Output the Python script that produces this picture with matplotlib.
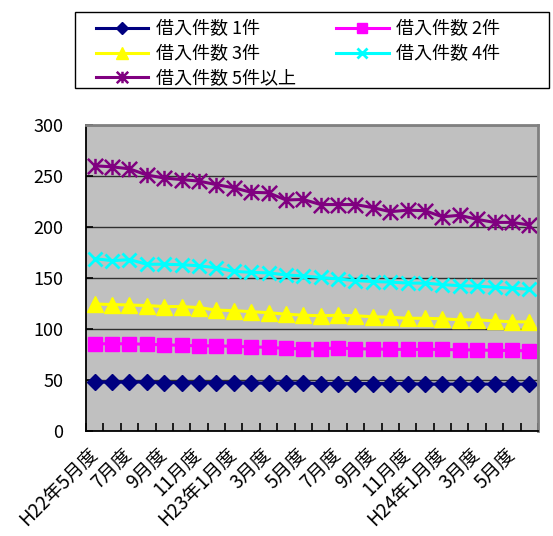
import matplotlib
matplotlib.use("Agg")
import matplotlib.pyplot as plt
from matplotlib.path import Path
from matplotlib.patches import Rectangle
from matplotlib.ticker import FixedLocator
import numpy as np

plt.rcParams['font.family'] = ['Noto Sans CJK JP', 'DejaVu Sans']

months = ["H22年5月度", "6月度", "7月度", "8月度", "9月度", "10月度", "11月度", "12月度",
          "H23年1月度", "2月度", "3月度", "4月度", "5月度", "6月度", "7月度", "8月度",
          "9月度", "10月度", "11月度", "12月度", "H24年1月度", "2月度", "3月度", "4月度",
          "5月度", "6月度"]

s1 = [48, 48, 48, 48, 47.5, 47.5, 47.5, 47.5, 47.5, 47, 47, 47, 47, 46.5, 46.5, 46.5,
      46.5, 46.5, 46.5, 46, 46, 46, 46, 46, 46, 46]
s2 = [85.5, 85.5, 85.5, 85, 84.5, 84, 83.5, 83.5, 83, 82.5, 82, 81, 80.5, 80.5, 81.5, 80.5,
      80.5, 80, 80, 80, 80, 79.5, 79.5, 79, 79, 78.5]
s3 = [124.5, 124, 123.5, 123, 122, 122, 121, 118.5, 118, 117, 116, 114.5, 113.5, 113, 113.5, 113,
      112, 111.5, 110.5, 110.5, 110, 109, 109, 108, 107, 107]
s4 = [169, 167, 168, 163.5, 163.5, 163, 162, 160, 156.5, 155.5, 155, 153, 152, 150.5, 149, 147.5,
      146.5, 146, 145, 145, 143.5, 142.5, 142, 141, 140, 139]
s5 = [260, 259, 257, 251, 248, 246.5, 245, 241.5, 238.5, 234, 233.5, 226.5, 227, 222, 222, 222,
      219, 215, 216.5, 216, 210, 211.5, 207.5, 204.5, 204.5, 202]

series_labels = ["借入件数 1件", "借入件数 2件", "借入件数 3件", "借入件数 4件", "借入件数 5件以上"]
yticks = [0, 50, 100, 150, 200, 250, 300]

W, H = 553, 536
fig = plt.figure(figsize=(W / 100, H / 100), dpi=100)
ax = fig.add_axes([86 / W, 1 - 431 / H, (538 - 86) / W, (431 - 125) / H])
ax.set_facecolor('#C0C0C0')

star = Path([(0, -1), (0, 1), (-1, -1), (1, 1), (-1, 1), (1, -1)],
            [Path.MOVETO, Path.LINETO, Path.MOVETO, Path.LINETO, Path.MOVETO, Path.LINETO])

x = np.arange(len(months))
lw = 2.2
h1, = ax.plot(x, s1, color='#000080', lw=lw, marker='D', ms=8.2, mec='#000080', label=series_labels[0])
h2, = ax.plot(x, s2, color='#FF00FF', lw=lw, marker='s', ms=10.5, mec='#FF00FF', label=series_labels[1])
h3, = ax.plot(x, s3, color='#FFFF00', lw=lw, marker='^', ms=11, mec='#FFFF00', label=series_labels[2])
h4, = ax.plot(x, s4, color='#00FFFF', lw=lw, marker='x', ms=10.5, mew=2.0, mec='#00FFFF', label=series_labels[3])
h5, = ax.plot(x, s5, color='#800080', lw=lw, marker=star, ms=11, mew=1.8, mec='#800080', label=series_labels[4])

ax.set_xlim(-0.5, len(months) - 0.5)
ax.set_ylim(0, 300)
ax.set_yticks(yticks)
ax.yaxis.grid(True, color='#303030', lw=1.0)
ax.set_axisbelow(True)

ax.set_xticks(x[::2])
ax.set_xticklabels(months[::2])
ax.xaxis.set_minor_locator(FixedLocator(np.arange(-0.5, len(months), 1.0)))
ax.tick_params(axis='x', which='major', length=0, pad=15, labelsize=13.5)
ax.tick_params(axis='x', which='minor', length=6, width=1.2, direction='in', color='black')
ax.tick_params(axis='y', length=5, width=1.2, direction='in', pad=16.5, labelsize=13)
for lab in ax.get_xticklabels():
    lab.set_rotation(45)
    lab.set_ha('right')
    lab.set_va('center')
    lab.set_rotation_mode('anchor')

for s in ['left', 'bottom']:
    ax.spines[s].set_color('black')
    ax.spines[s].set_linewidth(1.3)
for s in ['top', 'right']:
    ax.spines[s].set_color('#808080')
    ax.spines[s].set_linewidth(2.0)

# row-major order: (1件, 2件), (3件, 4件), (5件以上)
leg = fig.legend(handles=[h1, h3, h5, h2, h4], ncol=2, loc='upper left',
                 bbox_to_anchor=(96 / W, 1 - 20 / H), borderaxespad=0, borderpad=0,
                 frameon=False, fontsize=13, handlelength=2.9, handletextpad=0.4,
                 columnspacing=2.25, labelspacing=0.38, numpoints=1, markerscale=0.75)

fig.add_artist(Rectangle((75 / W, 1 - 88 / H), (549 - 75) / W, (88 - 12) / H,
                         transform=fig.transFigure, fill=False, ec='black', lw=1.0))

fig.savefig('out.png', dpi=100)
